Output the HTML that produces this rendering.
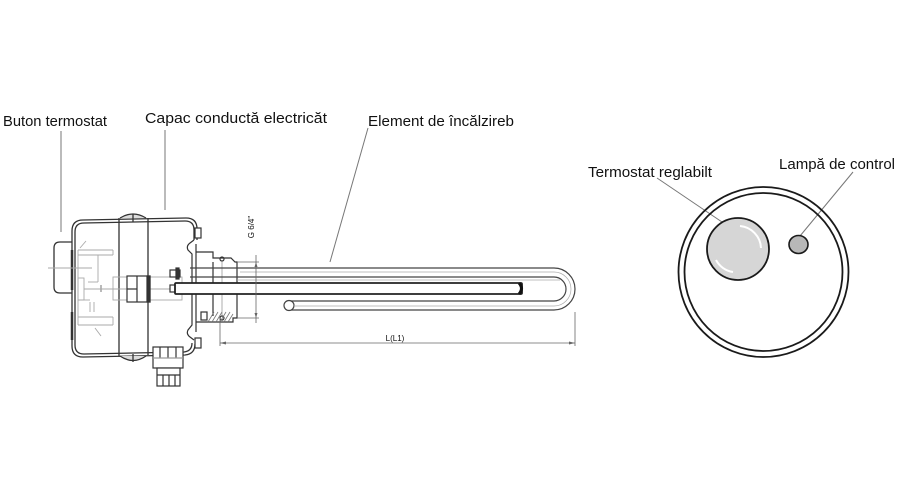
<!DOCTYPE html>
<html><head><meta charset="utf-8"><style>
html,body{margin:0;padding:0;background:#fff;}
svg{display:block;}
text{font-family:"Liberation Sans",Arial,sans-serif;fill:#111;}
</style></head><body>
<svg width="900" height="500" viewBox="0 0 900 500" xmlns="http://www.w3.org/2000/svg">
<rect width="900" height="500" fill="#fff"/>

<!-- Labels -->
<text x="3" y="126" font-size="15" textLength="104" lengthAdjust="spacingAndGlyphs">Buton termostat</text>
<text x="145" y="123" font-size="15" textLength="182" lengthAdjust="spacingAndGlyphs">Capac conductă electricăt</text>
<text x="368" y="126" font-size="15" textLength="146" lengthAdjust="spacingAndGlyphs">Element de încălzireb</text>
<text x="588" y="177" font-size="15" textLength="124" lengthAdjust="spacingAndGlyphs">Termostat reglabilt</text>
<text x="779" y="169" font-size="15" textLength="116" lengthAdjust="spacingAndGlyphs">Lampă de control</text>

<!-- Leaders -->
<g stroke="#777" stroke-width="1" fill="none">
<line x1="61" y1="131" x2="61" y2="232"/>
<line x1="165" y1="130" x2="165" y2="210"/>
<line x1="368" y1="128" x2="330" y2="262"/>
<line x1="657" y1="178" x2="722" y2="222"/>
<line x1="853" y1="172" x2="800" y2="236"/>
</g>

<!-- Housing -->
<g fill="none" stroke="#333" stroke-width="1.3">
<!-- outer shell -->
<path d="M72,300 L72,231 Q72,220 83,220 L186,218 Q197,218 197,229 L197,240"/>
<path d="M75,300 L75,232 Q75,223 84,223 L185,221 Q194,221 194,230 L194,240"/>
<path d="M72,300 L72,346 Q72,357 83,357 L185,355 Q195,354 195,344"/>
<path d="M75,300 L75,345 Q75,354 84,354 L184,352 Q192,351 192,343"/>
<!-- band -->
<line x1="119" y1="218" x2="119" y2="356"/>
<line x1="148" y1="218" x2="148" y2="355"/>
<path d="M120,218 Q133,210 146,218" fill="#ddd"/>
<path d="M120,356 Q133,365 146,356" fill="#ddd"/>
<line x1="133" y1="214" x2="133" y2="222"/>
<line x1="133" y1="354" x2="133" y2="362"/>
<!-- knob -->
<path d="M72,242 L60,242 Q54,242 54,248 L54,287 Q54,293 60,293 L72,293"/>
<line x1="72" y1="250" x2="72" y2="290" stroke-width="2.5"/>
<line x1="72" y1="312" x2="72" y2="340" stroke-width="2.5"/>
</g>

<!-- inner mechanism (light) -->
<g fill="none" stroke="#aaa" stroke-width="0.9">
<line x1="48" y1="268" x2="92" y2="268"/>
<line x1="78" y1="250" x2="113" y2="250"/>
<line x1="78" y1="255" x2="113" y2="255"/>
<line x1="78" y1="250" x2="78" y2="325"/>
<line x1="113" y1="250" x2="113" y2="255"/>
<line x1="78" y1="317" x2="113" y2="317"/>
<line x1="78" y1="325" x2="113" y2="325"/>
<line x1="113" y1="317" x2="113" y2="325"/>
<line x1="98" y1="255" x2="98" y2="282"/>
<line x1="88" y1="282" x2="98" y2="282"/>
<rect x="78" y="278" width="6" height="22"/>
<line x1="90" y1="302" x2="90" y2="312"/>
<line x1="94" y1="302" x2="94" y2="312"/>
<line x1="78" y1="300" x2="90" y2="300"/>
<line x1="80" y1="248" x2="86" y2="241"/>
<line x1="95" y1="328" x2="101" y2="336"/>
<line x1="101" y1="285" x2="101" y2="292" stroke="#666"/>
<line x1="84" y1="289" x2="240" y2="289"/>
<rect x="113" y="277" width="69" height="23"/>
</g>

<!-- terminal block -->
<g fill="#fff" stroke="#333" stroke-width="1.2">
<rect x="127" y="276" width="23" height="26"/>
<line x1="137" y1="276" x2="137" y2="302"/>
<line x1="127" y1="289" x2="137" y2="289"/>
<rect x="147" y="276" width="3" height="26" fill="#333"/>
<rect x="170" y="270" width="10" height="7"/>
<rect x="176" y="268" width="3" height="11" fill="#333"/>
<rect x="170" y="285" width="8" height="7"/>
</g>

<!-- right wall & flange -->
<g fill="none" stroke="#333" stroke-width="1.2">
<rect x="195" y="228" width="6" height="10" fill="#fff"/>
<rect x="195" y="338" width="6" height="10" fill="#fff"/>
<path d="M194,240 L190,243 Q186,246 188,250 L192,254 L192,325 L188,330 Q186,334 190,337 L194,340"/>
<line x1="196" y1="244" x2="196" y2="332"/>
<path d="M196,252 L213,252 L213,258 L231,258 L235,262 L237,262 L237,318 L233,318 L233,322 L196,322"/>
<line x1="213" y1="262" x2="213" y2="316"/>
<line x1="222" y1="262" x2="222" y2="316" stroke="#999" stroke-width="0.8"/>
<circle cx="222" cy="259" r="2"/>
<circle cx="222" cy="318" r="2"/>
<rect x="201" y="312" width="6" height="8" fill="#fff"/>
</g>
<g stroke="#777" stroke-width="0.8">
<line x1="208" y1="322" x2="214" y2="312"/>
<line x1="212" y1="322" x2="218" y2="312"/>
<line x1="216" y1="322" x2="222" y2="312"/>
<line x1="220" y1="322" x2="226" y2="312"/>
<line x1="224" y1="322" x2="230" y2="312"/>
<line x1="228" y1="322" x2="233" y2="314"/>
</g>

<!-- cable gland -->
<g fill="#fff" stroke="#333" stroke-width="1.2">
<rect x="153" y="347" width="30" height="21"/>
<line x1="160" y1="347" x2="160" y2="358"/>
<line x1="168" y1="347" x2="168" y2="358"/>
<line x1="176" y1="347" x2="176" y2="358"/>
<line x1="153" y1="358" x2="183" y2="358" stroke="#999"/>
<rect x="157" y="368" width="23" height="18"/>
<line x1="157" y1="375" x2="180" y2="375"/>
<line x1="163" y1="375" x2="163" y2="386"/>
<line x1="169" y1="375" x2="169" y2="386"/>
<line x1="175" y1="375" x2="175" y2="386"/>
</g>

<!-- heating element tubes -->
<g fill="none" stroke="#444" stroke-width="1.2">
<path d="M190,268 L554,268 A21,21 0 0 1 554,310 L289,310"/>
<path d="M190,277 L554,277 A12,12 0 0 1 554,301 L289,301"/>
<circle cx="289" cy="305.5" r="5" fill="#fff"/>
</g>
<g fill="none" stroke="#aaa" stroke-width="0.7">
<path d="M240,272 L554,272 A17,17 0 0 1 554,306 L294,306"/>
<line x1="237" y1="280" x2="560" y2="280"/>
</g>
<rect x="175" y="283" width="347" height="11" rx="1" fill="#fff" stroke="#222" stroke-width="1.8"/>
<path d="M519,283 Q524,288.5 519,294" stroke="#111" stroke-width="3" fill="none"/>

<!-- dimensions -->
<g stroke="#666" stroke-width="0.8" fill="none">
<line x1="220" y1="343" x2="575" y2="343"/>
<line x1="220" y1="318" x2="220" y2="346"/>
<line x1="575" y1="312" x2="575" y2="346"/>
<line x1="256" y1="255" x2="256" y2="323"/>
<line x1="237" y1="262" x2="259" y2="262"/>
<line x1="237" y1="318" x2="259" y2="318"/>
</g>
<path d="M220,343 l6,-1.5 l0,3 z M575,343 l-6,-1.5 l0,3 z M256,262 l-1.5,5 l3,0 z M256,318 l-1.5,-5 l3,0 z" fill="#666"/>
<text x="395" y="341" font-size="8" text-anchor="middle" fill="#333">L(L1)</text>
<text transform="translate(254,227) rotate(-90)" font-size="8" text-anchor="middle" fill="#333">G 6/4"</text>

<!-- Right: control panel circle -->
<g fill="none" stroke="#1a1a1a" stroke-width="1.8">
<circle cx="763.5" cy="272" r="85"/>
<circle cx="763.5" cy="272" r="79"/>
</g>
<circle cx="738" cy="249" r="31" fill="#d6d6d6" stroke="#1a1a1a" stroke-width="1.8"/>
<path d="M740,226 A23,23 0 0 1 761,248" stroke="#fff" stroke-width="2" fill="none"/>
<path d="M716,260 A23,23 0 0 0 733,272" stroke="#fff" stroke-width="2" fill="none"/>
<ellipse cx="798.5" cy="244.5" rx="9.5" ry="9" fill="#b8b8b8" stroke="#1a1a1a" stroke-width="1.6"/>
</svg>
</body></html>
